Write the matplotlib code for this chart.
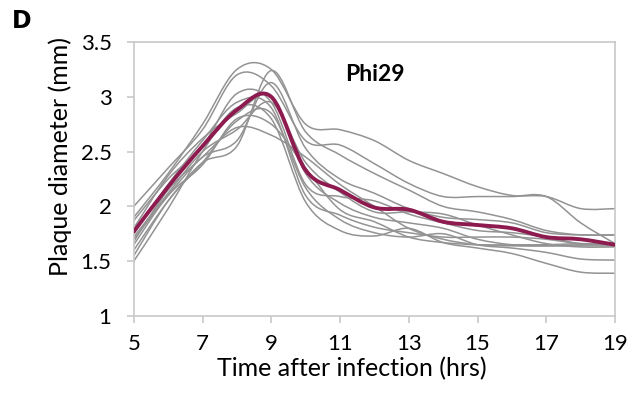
import numpy as np
import matplotlib
matplotlib.use("Agg")
import matplotlib.pyplot as plt
from matplotlib.path import Path
from matplotlib.patches import PathPatch

plt.rcParams['font.family'] = ['Lato', 'DejaVu Sans']

# hours after infection
hours = [5, 6, 7, 8, 9, 10, 11, 12, 13, 14, 15, 16, 17, 18, 19]

# individual plaques (mm)
plaque_1 = [1.90, 2.30, 2.75, 3.25, 3.25, 2.75, 2.70, 2.60, 2.42, 2.30, 2.18, 2.10, 2.09, 1.98, 1.98]
plaque_2 = [2.00, 2.35, 2.70, 3.20, 3.10, 2.60, 2.56, 2.39, 2.21, 2.09, 2.09, 2.09, 2.09, 1.85, 1.66]
plaque_3 = [1.60, 2.05, 2.40, 2.55, 3.24, 2.68, 2.47, 2.30, 2.15, 2.00, 1.95, 1.88, 1.78, 1.74, 1.74]
plaque_4 = [1.70, 2.10, 2.45, 2.60, 3.13, 2.53, 2.25, 2.12, 1.98, 1.90, 1.88, 1.85, 1.76, 1.74, 1.74]
plaque_5 = [1.87, 2.25, 2.55, 3.03, 2.95, 2.20, 2.09, 2.05, 1.93, 1.85, 1.78, 1.76, 1.72, 1.66, 1.66]
plaque_6 = [1.75, 2.20, 2.60, 2.95, 2.90, 2.10, 1.92, 1.81, 1.76, 1.72, 1.72, 1.72, 1.70, 1.66, 1.66]
plaque_7 = [1.80, 2.28, 2.62, 2.85, 3.00, 2.30, 2.03, 1.90, 1.85, 1.80, 1.70, 1.65, 1.64, 1.64, 1.64]
plaque_8 = [1.68, 2.15, 2.45, 2.72, 2.65, 2.45, 2.20, 2.00, 1.80, 1.70, 1.65, 1.64, 1.64, 1.65, 1.66]
plaque_9 = [1.55, 2.05, 2.40, 2.78, 2.85, 2.17, 1.88, 1.76, 1.72, 1.75, 1.65, 1.62, 1.58, 1.52, 1.51]
plaque_10 = [1.50, 1.98, 2.50, 2.90, 2.80, 2.04, 1.78, 1.73, 1.80, 1.67, 1.62, 1.57, 1.48, 1.40, 1.39]
plaque_11 = [1.65, 2.10, 2.38, 2.80, 2.75, 2.35, 1.97, 1.86, 1.72, 1.67, 1.65, 1.65, 1.65, 1.66, 1.66]
plaque_12 = [1.72, 2.12, 2.50, 2.70, 2.95, 2.40, 2.13, 1.95, 1.95, 1.93, 1.83, 1.74, 1.66, 1.63, 1.63]

# average curve
mean_diam = [1.77, 2.18, 2.55, 2.88, 3.00, 2.33, 2.15, 1.99, 1.97, 1.86, 1.83, 1.80, 1.72, 1.70, 1.65]

plaques = [plaque_1, plaque_2, plaque_3, plaque_4, plaque_5, plaque_6,
           plaque_7, plaque_8, plaque_9, plaque_10, plaque_11, plaque_12]


def smooth_path(x, y):
    # Excel style smoothed line: cubic bezier through the points
    pts = np.column_stack([x, y]).astype(float)
    n = len(pts)
    verts = [pts[0]]
    codes = [Path.MOVETO]
    for i in range(n - 1):
        p0 = pts[i - 1] if i > 0 else pts[i]
        p1 = pts[i]
        p2 = pts[i + 1]
        p3 = pts[i + 2] if i + 2 < n else pts[i + 1]
        c1 = p1 + (p2 - p0) / 6.0
        c2 = p2 - (p3 - p1) / 6.0
        verts += [c1, c2, p2]
        codes += [Path.CURVE4] * 3
    return Path(verts, codes)


fig = plt.figure(figsize=(6.4, 3.93), dpi=100)
ax = fig.add_axes([0.209, 0.196, 0.752, 0.697])

for p in plaques:
    ax.add_patch(PathPatch(smooth_path(hours, p), fill=False, edgecolor='#939393', lw=1.1))
ax.add_patch(PathPatch(smooth_path(hours, mean_diam), fill=False, edgecolor='#8E1B50', lw=2.8,
                       capstyle='round', zorder=3))

ax.set_xlim(5, 19)
ax.set_ylim(1, 3.5)
ax.set_xticks(np.arange(5, 20, 2))
ax.set_yticks([1, 1.5, 2, 2.5, 3, 3.5])
ax.set_yticklabels(['1', '1.5', '2', '2.5', '3', '3.5'])

for s in ax.spines.values():
    s.set_color('#C8C8C8')
    s.set_linewidth(1.2)
ax.tick_params(axis='both', colors='#C8C8C8', labelcolor='black', labelsize=16, length=5, width=1.2)
ax.tick_params(axis='y', pad=11)
ax.tick_params(axis='x', pad=8)

ax.set_xlabel('Time after infection (hrs)', fontsize=18, va='top')
ax.xaxis.set_label_coords(0.453, -0.15)
ax.set_ylabel('Plaque diameter (mm)', fontsize=18, va='bottom')
ax.yaxis.set_label_coords(-0.129, 0.584)

ax.text(12, 3.2, 'Phi29', fontsize=16.5, fontweight='bold', ha='center', va='center')
fig.text(0.034, 0.947, 'D', fontsize=17, fontweight='bold', family='DejaVu Sans', ha='center', va='center')

fig.savefig('out.png', dpi=100)
